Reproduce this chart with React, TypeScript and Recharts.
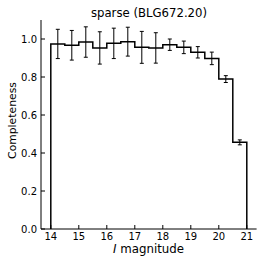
import { ComposedChart, Line, Scatter, ErrorBar, XAxis, YAxis } from "recharts";

// histogram bin edges (I magnitude) and completeness per bin
const binEdges = [14, 14.5, 15, 15.5, 16, 16.5, 17, 17.5, 18, 18.5, 19, 19.5, 20, 20.5, 21];
const completeness = [0.974, 0.967, 0.984, 0.953, 0.977, 0.986, 0.956, 0.953, 0.97, 0.956, 0.93, 0.898, 0.789, 0.456];
const completenessErr = [0.077, 0.078, 0.08, 0.085, 0.08, 0.076, 0.084, 0.08, 0.03, 0.033, 0.03, 0.033, 0.018, 0.013];

const xTicks = [14, 15, 16, 17, 18, 19, 20, 21];
const yTicks = [0, 0.2, 0.4, 0.6, 0.8, 1.0];
const xDomain = [13.65, 21.35];
const yDomain = [0, 1.1];

const FONT = "DejaVu Sans";

// step outline: up from zero at the first edge, across each bin, down at the last edge
const stepData = [{ x: binEdges[0], y: 0 }];
completeness.forEach((v, i) => {
  stepData.push({ x: binEdges[i], y: v });
  stepData.push({ x: binEdges[i + 1], y: v });
});
stepData.push({ x: binEdges[binEdges.length - 1], y: 0 });

const errData = completeness.map((v, i) => ({
  x: (binEdges[i] + binEdges[i + 1]) / 2,
  y: v,
  err: completenessErr[i],
}));

const tickStyle = { fontFamily: FONT, fontSize: 10, fill: "#000" };
const blank = () => "";

export default function App() {
  return (
    <div style={{ position: "absolute", left: 0, top: 0, width: 266, height: 266, background: "#fff" }}>
      <ComposedChart
        width={266}
        height={266}
        margin={{ top: 20, right: 9.4, bottom: 0, left: 0 }}
        style={{ fontFamily: FONT }}
      >
        <XAxis
          dataKey="x"
          type="number"
          domain={xDomain}
          ticks={xTicks}
          allowDataOverflow
          height={37}
          stroke="#000"
          tickSize={-4}
          tickMargin={8}
          tick={tickStyle}
        />
        <XAxis
          xAxisId="top"
          orientation="top"
          type="number"
          domain={xDomain}
          ticks={xTicks}
          allowDataOverflow
          height={0}
          stroke="#000"
          tickSize={-4}
          tickFormatter={blank}
        />
        <YAxis
          type="number"
          domain={yDomain}
          ticks={yTicks}
          allowDataOverflow
          width={41}
          stroke="#000"
          tickSize={-4}
          tickMargin={8}
          tick={tickStyle}
          tickFormatter={(v) => v.toFixed(1)}
        />
        <YAxis
          yAxisId="right"
          orientation="right"
          type="number"
          domain={yDomain}
          ticks={yTicks}
          allowDataOverflow
          width={0}
          stroke="#000"
          tickSize={-4}
          tickFormatter={blank}
        />
        <Line
          data={stepData}
          dataKey="y"
          type="linear"
          stroke="#000"
          strokeWidth={1.5}
          dot={false}
          activeDot={false}
          isAnimationActive={false}
        />
        <Scatter data={errData} dataKey="y" shape={() => <g />} isAnimationActive={false}>
          <ErrorBar dataKey="err" direction="y" width={2} stroke="#000" strokeWidth={1} isAnimationActive={false} />
        </Scatter>
      </ComposedChart>
      <svg
        width={266}
        height={266}
        style={{ position: "absolute", left: 0, top: 0, pointerEvents: "none" }}
        fontFamily={FONT}
      >
        <text x={149} y={16.7} textAnchor="middle" fontSize={11.7} fill="#000">
          sparse (BLG672.20)
        </text>
        <text x={148.5} y={253.3} textAnchor="middle" fontSize={11.8} fill="#000">
          <tspan fontStyle="italic">I</tspan> magnitude
        </text>
        <text
          x={0}
          y={0}
          transform="translate(16,120.5) rotate(-90)"
          textAnchor="middle"
          fontSize={10.8}
          fill="#000"
        >
          Completeness
        </text>
      </svg>
    </div>
  );
}
